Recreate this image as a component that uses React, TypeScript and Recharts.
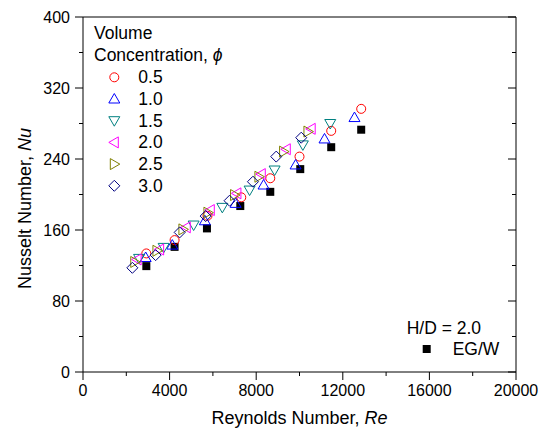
import React from 'react';
import { ScatterChart, Scatter, XAxis, YAxis } from 'recharts';

const FONT = 'Arial, "Liberation Sans", Helvetica, sans-serif';

// Reynolds number (Re) and Nusselt number (Nu) per volume concentration
const re05 = [2925, 4230, 5750, 7310, 8650, 10000, 11465, 12850];
const nu05 = [133.6, 148.6, 176, 196.8, 218.3, 242.7, 271.7, 296.5];

const re10 = [2895, 4125, 5630, 7050, 8340, 9820, 11155, 12540];
const nu10 = [129, 143, 170.4, 190, 210.7, 233.3, 262.6, 286.7];

const re15 = [2590, 3725, 5110, 6435, 7695, 8850, 10155, 11420];
const nu15 = [128, 140.4, 165.6, 185.5, 205, 227.6, 255.9, 280];

const re20 = [2500, 3540, 4770, 5880, 7110, 8235, 9390, 10540];
const nu20 = [126.8, 138, 163, 182.5, 201.3, 223, 251, 274];

const re25 = [2390, 3415, 4615, 5770, 7000, 8125, 9265, 10390];
const nu25 = [124, 136.6, 160.7, 179.5, 199.4, 220, 248.3, 270.9];

const re30 = [2280, 3355, 4465, 5665, 6770, 7850, 8925, 10080];
const nu30 = [117.4, 131.7, 157.3, 175.7, 193, 214.4, 242.7, 264];

// base fluid EG/W
const reBase = [2925, 4230, 5725, 7265, 8650, 10035, 11465, 12850];
const nuBase = [119.3, 141, 161.8, 187, 203, 228.6, 253.3, 273];

const xTicks = [0, 2000, 4000, 6000, 8000, 10000, 12000, 14000, 16000, 18000, 20000];
const yTicks = [0, 40, 80, 120, 160, 200, 240, 280, 320, 360, 400];

type Kind = 'circle' | 'up' | 'down' | 'left' | 'right' | 'diamond' | 'square';

const series: { name: string; re: number[]; nu: number[]; color: string; kind: Kind }[] = [
    { name: '0.5', re: re05, nu: nu05, color: '#ff0000', kind: 'circle' },
    { name: '1.0', re: re10, nu: nu10, color: '#0000ff', kind: 'up' },
    { name: '1.5', re: re15, nu: nu15, color: '#008080', kind: 'down' },
    { name: '2.0', re: re20, nu: nu20, color: '#ff00ff', kind: 'left' },
    { name: '2.5', re: re25, nu: nu25, color: '#808000', kind: 'right' },
    { name: '3.0', re: re30, nu: nu30, color: '#000080', kind: 'diamond' },
];

const toPoints = (re: number[], nu: number[]) => re.map((r, i) => ({ re: r, nu: nu[i] }));

function Marker({ cx, cy, kind, color }: { cx: number; cy: number; kind: Kind; color: string }) {
    const s = 5.5;
    const t = 4;
    const common = { fill: 'none', stroke: color, strokeWidth: 1 };
    switch (kind) {
        case 'circle':
            return <circle cx={cx} cy={cy} r={4.5} {...common} />;
        case 'up':
            return <polygon points={`${cx},${cy - s} ${cx + s},${cy + t} ${cx - s},${cy + t}`} {...common} />;
        case 'down':
            return <polygon points={`${cx - s},${cy - t} ${cx + s},${cy - t} ${cx},${cy + s}`} {...common} />;
        case 'left':
            return <polygon points={`${cx - s},${cy} ${cx + t},${cy - s} ${cx + t},${cy + s}`} {...common} />;
        case 'right':
            return <polygon points={`${cx + s},${cy} ${cx - t},${cy - s} ${cx - t},${cy + s}`} {...common} />;
        case 'diamond':
            return <polygon points={`${cx},${cy - s} ${cx + s},${cy} ${cx},${cy + s} ${cx - s},${cy}`} {...common} />;
        default:
            return <rect x={cx - 4} y={cy - 4} width={8} height={8} fill="#000" />;
    }
}

// tick renderers: major ticks are longer and labelled, minor ticks only a short line
const bottomTick = (props: any) => {
    const { x, y, payload } = props;
    const major = payload.value % 4000 === 0;
    return (
        <g>
            <line x1={x} y1={y} x2={x} y2={y + (major ? 8 : 4)} stroke="#000" />
            {major && (
                <text x={x} y={y + 13} dy="0.71em" textAnchor="middle" fontSize={16} fill="#000" fontFamily={FONT}>
                    {payload.value}
                </text>
            )}
        </g>
    );
};

const leftTick = (props: any) => {
    const { x, y, payload } = props;
    const major = payload.value % 80 === 0;
    return (
        <g>
            <line x1={x} y1={y} x2={x - (major ? 8 : 4)} y2={y} stroke="#000" />
            {major && (
                <text x={x - 13} y={y} dy="0.355em" textAnchor="end" fontSize={16} fill="#000" fontFamily={FONT}>
                    {payload.value}
                </text>
            )}
        </g>
    );
};

const topTick = (props: any) => {
    const { x, y, payload } = props;
    const major = payload.value % 4000 === 0;
    return <line x1={x} y1={y} x2={x} y2={y + (major ? 8 : 4)} stroke="#000" />;
};

const rightTick = (props: any) => {
    const { x, y, payload } = props;
    const major = payload.value % 80 === 0;
    return <line x1={x} y1={y} x2={x - (major ? 8 : 4)} y2={y} stroke="#000" />;
};

const xTitle = (props: any) => {
    const { viewBox } = props;
    return (
        <text x={viewBox.x + viewBox.width / 2} y={viewBox.y + 46} textAnchor="middle" dominantBaseline="central" fontSize={18} fill="#000" fontFamily={FONT}>
            Reynolds Number, <tspan fontStyle="italic">Re</tspan>
        </text>
    );
};

const yTitle = (props: any) => {
    const { viewBox } = props;
    const cx = viewBox.x + 25;
    const cy = viewBox.y + viewBox.height / 2 + 14;
    return (
        <text x={cx} y={cy} transform={`rotate(-90 ${cx} ${cy})`} textAnchor="middle" dominantBaseline="central" fontSize={18} fill="#000" fontFamily={FONT}>
            Nusselt Number, <tspan fontStyle="italic">Nu</tspan>
        </text>
    );
};

function LegendOverlay() {
    const fs = 17.5;
    return (
        <svg width={546} height={432} style={{ position: 'absolute', left: 0, top: 0, pointerEvents: 'none' }} fontFamily={FONT}>
            <text x={94} y={33.3} fontSize={fs} dominantBaseline="central">Volume</text>
            <text x={94} y={55} fontSize={fs} dominantBaseline="central">
                Concentration, <tspan fontStyle="italic">ϕ</tspan>
            </text>
            {series.map((s, i) => {
                const y = 77.3 + i * 21.7;
                return (
                    <g key={s.name}>
                        <Marker cx={114.3} cy={y} kind={s.kind} color={s.color} />
                        <text x={138.3} y={y} fontSize={fs} dominantBaseline="central">{s.name}</text>
                    </g>
                );
            })}
            <text x={406.7} y={328} fontSize={fs} dominantBaseline="central">H/D = 2.0</text>
            <Marker cx={426.7} cy={349} kind="square" color="#000" />
            <text x={452.7} y={349} fontSize={fs} dominantBaseline="central">EG/W</text>
        </svg>
    );
}

export default function App() {
    return (
        <div style={{ position: 'absolute', left: 0, top: 0, width: 546, height: 432, background: '#fff', fontFamily: FONT }}>
            <ScatterChart width={546} height={432} margin={{ top: 16, right: 29, bottom: 0, left: 0 }}>
                <XAxis
                    xAxisId="top"
                    orientation="top"
                    type="number"
                    domain={[0, 20000]}
                    allowDataOverflow
                    ticks={xTicks}
                    interval={0}
                    height={1}
                    tickSize={0}
                    tickMargin={0}
                    tickLine={false}
                    tick={topTick}
                    axisLine={{ stroke: '#000' }}
                />
                <XAxis
                    xAxisId="main"
                    dataKey="re"
                    type="number"
                    domain={[0, 20000]}
                    allowDataOverflow
                    ticks={xTicks}
                    interval={0}
                    height={60}
                    tickSize={0}
                    tickMargin={0}
                    tickLine={false}
                    tick={bottomTick}
                    axisLine={{ stroke: '#000' }}
                    label={xTitle}
                />
                <YAxis
                    yAxisId="main"
                    dataKey="nu"
                    type="number"
                    domain={[0, 400]}
                    allowDataOverflow
                    ticks={yTicks}
                    interval={0}
                    width={83}
                    tickSize={0}
                    tickMargin={0}
                    tickLine={false}
                    tick={leftTick}
                    axisLine={{ stroke: '#000' }}
                    label={yTitle}
                />
                <YAxis
                    yAxisId="right"
                    orientation="right"
                    type="number"
                    domain={[0, 400]}
                    allowDataOverflow
                    ticks={yTicks}
                    interval={0}
                    width={1}
                    tickSize={0}
                    tickMargin={0}
                    tickLine={false}
                    tick={rightTick}
                    axisLine={{ stroke: '#000' }}
                />
                <Scatter
                    name="EG/W"
                    xAxisId="main"
                    yAxisId="main"
                    data={toPoints(reBase, nuBase)}
                    isAnimationActive={false}
                    shape={(p: any) => <Marker cx={p.cx} cy={p.cy} kind="square" color="#000" />}
                />
                {series.map((s) => (
                    <Scatter
                        key={s.name}
                        name={s.name}
                        xAxisId="main"
                        yAxisId="main"
                        data={toPoints(s.re, s.nu)}
                        isAnimationActive={false}
                        shape={(p: any) => <Marker cx={p.cx} cy={p.cy} kind={s.kind} color={s.color} />}
                    />
                ))}
            </ScatterChart>
            <LegendOverlay />
        </div>
    );
}
